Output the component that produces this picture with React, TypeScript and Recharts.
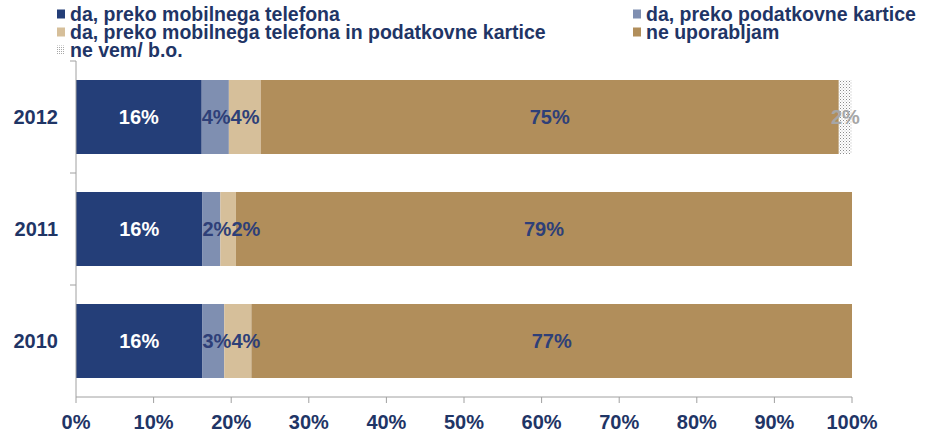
import React from 'react';
import { BarChart, Bar, XAxis, YAxis, LabelList } from 'recharts';

const years = ['2012', '2011', '2010'];
const mobilni = [16.2, 16.3, 16.3];
const kartica = [3.5, 2.3, 2.8];
const oboje = [4.1, 2.0, 3.5];
const neUporabljam = [74.5, 79.4, 77.4];
const neVem = [1.7, 0, 0];
const xTicks = [0, 10, 20, 30, 40, 50, 60, 70, 80, 90, 100];

const seriesNames = [
  'da, preko mobilnega telefona',
  'da, preko podatkovne kartice',
  'da, preko mobilnega telefona in podatkovne kartice',
  'ne uporabljam',
  'ne vem/ b.o.',
];
const seriesKeys = ['mobilni', 'kartica', 'oboje', 'neUporabljam', 'neVem'];
const colors = ['#243E78', '#7F8FB1', '#D6BF9A', '#B18E5B', 'url(#dots)'];
const labelColors = ['#FFFFFF', '#2E3F78', '#2E3F78', '#2E3F78', '#A6A6A6'];

const data = years.map((y, i) => ({
  year: y,
  mobilni: mobilni[i],
  kartica: kartica[i],
  oboje: oboje[i],
  neUporabljam: neUporabljam[i],
  neVem: neVem[i],
}));

const NAVY = '#1F3566';
const sans = '"Liberation Sans", Arial, sans-serif';
const LABEL_FONT = 20;

const legendPos = [
  { left: 57, top: 5 },
  { left: 633, top: 5 },
  { left: 57, top: 23 },
  { left: 633, top: 23 },
  { left: 57, top: 41 },
];

const Legend2 = () => (
  <>
    {seriesNames.map((n, i) => (
      <div
        key={n}
        style={{
          position: 'absolute',
          left: legendPos[i].left,
          top: legendPos[i].top,
          fontFamily: sans,
          fontWeight: 'bold',
          fontSize: 19.5,
          color: NAVY,
          whiteSpace: 'nowrap',
          lineHeight: '18px',
          height: 18,
          display: 'flex',
          alignItems: 'center',
        }}
      >
        <svg width={10} height={10} style={{ marginRight: 3 }}>
          <defs>
            <pattern id={`ldots${i}`} width={2} height={2} patternUnits="userSpaceOnUse">
              <rect width={2} height={2} fill="#FFFFFF" />
              <rect width={1} height={1} fill="#A8A8A8" />
            </pattern>
          </defs>
          <rect width={8} height={9} y={0.5} fill={i === 4 ? `url(#ldots${i})` : colors[i]} />
        </svg>
        {n}
      </div>
    ))}
  </>
);

const fmt = (v: any) => (v ? `${Math.round(Number(v))}%` : '');
const textW = (s: string) => {
  let w = 0;
  for (const c of s) w += c === '%' ? 0.889 : 0.556;
  return w * LABEL_FONT;
};

// Label that nudges right to avoid overlapping (like Excel's placement of small labels)
const makeLabel = (seriesIdx: number) => (props: any) => {
  const { x, y, width, height, value, index } = props;
  if (!value) return null;
  const txt = fmt(value);
  const w = textW(txt);
  let left = x + width / 2 - w / 2;
  if (seriesIdx === 1 || seriesIdx === 2) {
    left = Math.max(left, x);
    if (seriesIdx === 2) {
      const ppu = width / value;
      const kv = kartica[index];
      const kStart = x - kv * ppu;
      const kTxtW = textW(fmt(kv));
      const kLeft = Math.max(kStart + (kv * ppu) / 2 - kTxtW / 2, kStart);
      left = Math.max(left, kLeft + kTxtW);
    }
  }
  return (
    <text
      x={left + w / 2}
      y={y + height / 2}
      textAnchor="middle"
      dominantBaseline="central"
      fill={labelColors[seriesIdx]}
      fontFamily={sans}
      fontWeight="bold"
      fontSize={LABEL_FONT}
    >
      {txt}
    </text>
  );
};

const BAND = 112;

const YTick = (props: any) => {
  const { x, y, payload } = props;
  return (
    <g>
      <line x1={76} x2={70} y1={y - BAND / 2} y2={y - BAND / 2} stroke="#A0A0A0" />
      <text
        x={x}
        y={y}
        textAnchor="end"
        dominantBaseline="central"
        fill={NAVY}
        fontFamily={sans}
        fontWeight="bold"
        fontSize={20}
      >
        {payload.value}
      </text>
    </g>
  );
};

export default function App() {
  return (
    <div style={{ position: 'absolute', left: 0, top: 0, width: 928, height: 439, background: '#fff' }}>
      <Legend2 />
      <BarChart
        width={928}
        height={439}
        data={data}
        layout="vertical"
        margin={{ top: 61, right: 76, bottom: 10, left: 20 }}
        barSize={74}
      >
        <defs>
          <pattern id="dots" width={3} height={3} patternUnits="userSpaceOnUse">
            <rect width={3} height={3} fill="#FFFFFF" />
            <rect width={1} height={1} fill="#8C8C8C" />
            <rect x={1.5} y={1.5} width={1} height={1} fill="#BDBDBD" />
          </pattern>
        </defs>
        <XAxis
          type="number"
          domain={[0, 100]}
          ticks={xTicks}
          allowDataOverflow
          tickFormatter={(v) => `${v}%`}
          height={32}
          stroke="#A0A0A0"
          tickSize={6}
          tickMargin={12}
          tick={{ fill: NAVY, fontFamily: sans, fontWeight: 'bold', fontSize: 20 }}
          interval={0}
        />
        <YAxis
          type="category"
          dataKey="year"
          width={56}
          stroke="#A0A0A0"
          tickLine={false}
          tickMargin={12}
          tick={<YTick />}
        />
        {seriesKeys.map((k, i) => (
          <Bar key={k} dataKey={k} stackId="a" fill={colors[i]} isAnimationActive={false}>
            <LabelList dataKey={k} content={makeLabel(i)} />
          </Bar>
        ))}
      </BarChart>
    </div>
  );
}
